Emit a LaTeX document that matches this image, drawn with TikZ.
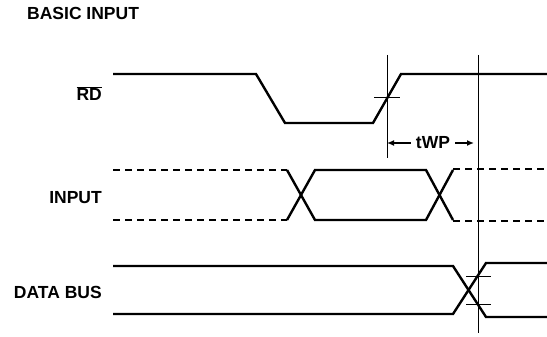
\documentclass[tikz,border=0pt]{standalone}
\usepackage{fontspec}
\setmainfont{Liberation Sans}
\usetikzlibrary{arrows.meta,positioning,calc}

\begin{document}
\begin{tikzpicture}[x=1pt,y=-1pt,
		sig/.style={line width=2.4pt},
		sigdash/.style={line width=2.4pt, dash pattern=on 7pt off 5pt},
		refline/.style={line width=0.9pt},
		lbl/.style={font=\fontsize{17.5}{20}\selectfont\bfseries, inner sep=0pt}]
		\useasboundingbox (0,0) rectangle (547,337);
		\node[lbl, anchor=base west] (title) at (27,20) {BASIC INPUT};
		\node[lbl, anchor=base east] (rd) at (102,101) {$\overline{\mbox{RD}}$};
		\node[lbl, anchor=base east] (in) at (102,204) {INPUT};
		\node[lbl, anchor=base east] (bus) at (102,298) {DATA BUS};
		% RD strobe
		\draw[sig] (113,74) -- (256,74) -- (285,123) -- (373,123) -- (401,74) -- (547,74);
		% input data
		\draw[sigdash] (113,170) -- (287,170) (113,220) -- (287,220);
		\draw[sig] (287,170) -- (315,220) -- (426,220) -- (453,170);
		\draw[sig] (287,220) -- (315,170) -- (426,170) -- (453,220);
		\draw[sigdash] (453,169) -- (547,169) (453,221) -- (547,221);
		% data bus
		\draw[sig] (113,266) -- (453,266) -- (486,317) -- (547,317);
		\draw[sig] (113,314) -- (453,314) -- (486,263) -- (547,263);
		% timing marks
		\coordinate (t1) at (387,55);
		\coordinate (t2) at (478,55);
		\draw[refline] (t1) -- ++(0,103);
		\draw[refline] (t2) -- ++(0,278);
		\draw[refline] (374,97) -- (400,97);
		\draw[refline] (466,276) -- (491,276) (466,304) -- (491,304);
		\node[lbl, inner xsep=5pt] (twp) at (433,143) {tWP};
		\draw[line width=1.6pt, -{Latex[length=7pt,width=6pt]}] (twp.west) -- (387,143);
		\draw[line width=1.6pt, -{Latex[length=7pt,width=6pt]}] (twp.east) -- (474,143);
\end{tikzpicture}
\end{document}
